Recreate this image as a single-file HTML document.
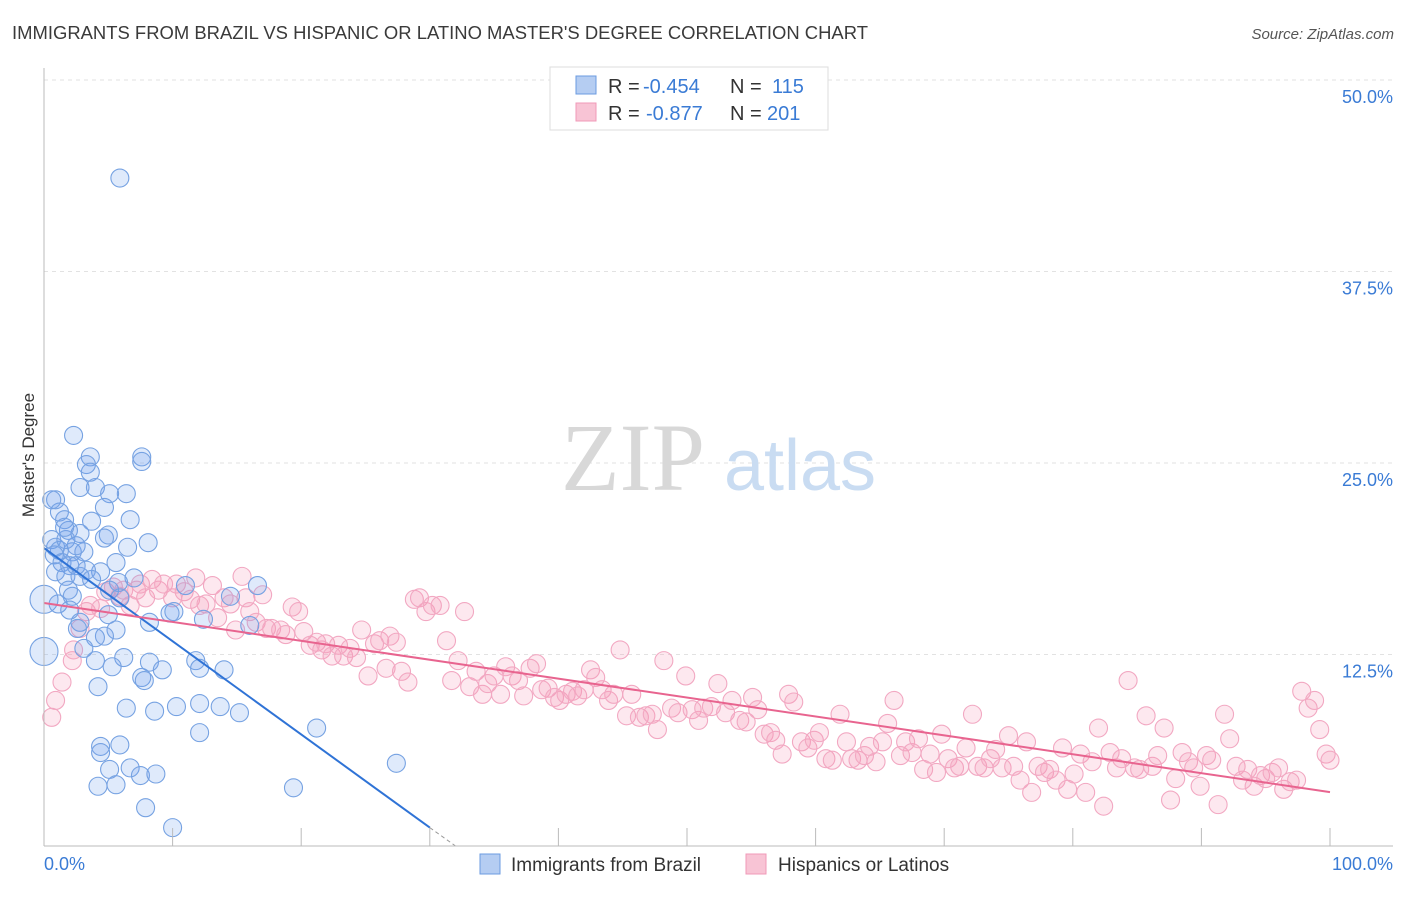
<!DOCTYPE html>
<html><head><meta charset="utf-8">
<style>
body{margin:0;background:#fff;font-family:"Liberation Sans",sans-serif;}
svg text{font-family:"Liberation Sans",sans-serif;}
</style></head>
<body>
<svg id="chart" width="1406" height="892" viewBox="0 0 1406 892" xmlns="http://www.w3.org/2000/svg">
<text x="12" y="39" font-size="18" fill="#3a3a3a" textLength="856" lengthAdjust="spacingAndGlyphs">IMMIGRANTS FROM BRAZIL VS HISPANIC OR LATINO MASTER'S DEGREE CORRELATION CHART</text>
<text x="1394" y="39" font-size="15" fill="#555" text-anchor="end" font-style="italic">Source: ZipAtlas.com</text>
<g id="grid"></g>
<g>
<text x="633" y="490" font-size="96" fill="#d8d8d8" text-anchor="middle" font-family="Liberation Serif" style="font-family:'Liberation Serif',serif">ZIP</text>
<text x="800" y="490" font-size="72" fill="#c9dcf2" text-anchor="middle">atlas</text>
</g>
<g id="pinkPts"></g>
<g id="bluePts"></g>
<g id="lines"></g>
<g id="axes"></g>
<text transform="translate(34,455) rotate(-90)" font-size="17" fill="#333" text-anchor="middle">Master's Degree</text>
<g>
<rect x="550" y="67" width="278" height="63" fill="#fff" stroke="#ddd"/>
<rect x="576" y="76" width="20" height="18" fill="#b5cdf2" stroke="#6b9be0"/>
<text x="608" y="93" font-size="20" fill="#333">R =</text>
<text x="643" y="93" font-size="20" fill="#3a7bd5">-0.454</text>
<text x="730" y="93" font-size="20" fill="#333">N =</text>
<text x="772" y="93" font-size="20" fill="#3a7bd5">115</text>
<rect x="576" y="103" width="20" height="18" fill="#f8c4d5" stroke="#f09ab8"/>
<text x="608" y="120" font-size="20" fill="#333">R =</text>
<text x="646" y="120" font-size="20" fill="#3a7bd5">-0.877</text>
<text x="730" y="120" font-size="20" fill="#333">N =</text>
<text x="767" y="120" font-size="20" fill="#3a7bd5">201</text>
</g>
<g>
<rect x="480" y="854" width="20" height="20" fill="#b5cdf2" stroke="#6b9be0"/>
<text x="511" y="871" font-size="19" fill="#333">Immigrants from Brazil</text>
<rect x="746" y="854" width="20" height="20" fill="#f8c4d5" stroke="#f09ab8"/>
<text x="778" y="871" font-size="19" fill="#333">Hispanics or Latinos</text>
</g>
</svg>
<script>
const yTicks=[12.5,25,37.5,50];
const yTickLabels=["12.5%","25.0%","37.5%","50.0%"];
const xTicks=[10,20,30,40,50,60,70,80,90,100];
const blueX=[5.9,2.3,3.6,7.6,7.6,3.3,3.6,0.9,2.8,4.0,5.1,6.4,4.7,1.2,1.6,3.7,6.7,1.9,2.8,5.0,4.7,8.1,0.6,0.9,1.2,0.8,2.2,3.1,6.5,1.4,2.0,2.5,5.6,0.9,4.4,1.7,2.8,7.0,5.8,5.1,1.9,2.2,16.6,11.0,14.5,0,10.1,9.8,8.2,12.4,2.8,2.6,5.6,4.7,4.0,3.1,0,16.0,6.2,8.2,4.0,5.3,11.8,12.1,14.0,9.2,7.6,7.8,4.2,6.4,8.6,10.3,12.1,13.7,15.2,21.2,12.1,5.9,4.4,4.4,6.7,5.1,7.5,8.7,4.2,5.6,19.4,27.4,7.9,10.0,0.6,1.7,3.3,1.1,3.7,2.5,1.6,5.9,5.0,2.0];
const blueY=[43.6,26.8,25.4,25.4,25.1,24.9,24.4,22.6,23.4,23.4,23.0,23.0,22.1,21.8,21.3,21.2,21.3,20.6,20.4,20.3,20.1,19.8,20.0,19.5,19.3,19.0,19.2,19.2,19.5,18.5,18.3,18.3,18.5,17.9,17.9,17.6,17.6,17.5,17.2,16.7,16.7,16.3,17.0,17.0,16.3,16.1,15.3,15.2,14.6,14.8,14.6,14.2,14.1,13.7,13.6,12.9,12.7,14.4,12.3,12.0,12.1,11.7,12.1,11.6,11.5,11.5,11.0,10.8,10.4,9.0,8.8,9.1,9.3,9.1,8.7,7.7,7.4,6.6,6.5,6.1,5.1,5.0,4.6,4.7,3.9,4.0,3.8,5.4,2.5,1.2,22.6,20.0,18.0,15.8,17.4,19.6,20.8,16.2,15.1,15.4];
const pinkX=[0.6,0.9,1.4,2.2,2.3,2.8,3.3,3.6,4.4,4.8,5.4,5.9,6.2,6.7,7.2,7.5,7.9,8.4,8.9,9.3,10.0,10.3,10.9,11.4,11.8,12.1,12.6,13.1,13.5,14.0,14.5,14.9,15.4,15.7,16.0,16.5,17.0,17.3,17.7,18.4,18.8,19.3,19.8,20.2,20.7,21.2,21.6,21.9,22.4,22.9,23.3,23.8,24.3,24.7,25.2,25.7,26.1,26.6,26.9,27.4,27.8,28.3,28.8,29.2,29.7,30.2,30.8,31.3,31.7,32.2,32.7,33.1,33.6,34.1,34.5,35.0,35.5,35.9,36.4,36.9,37.3,37.8,38.3,38.7,39.2,39.7,40.1,40.6,41.1,41.5,42.0,42.5,42.9,43.4,43.9,44.3,44.8,45.3,45.7,46.3,46.8,47.3,47.7,48.2,48.8,49.3,49.9,50.4,50.9,51.3,51.9,52.4,53.0,53.5,54.1,54.6,55.1,55.5,56.0,56.5,56.9,57.4,57.9,58.3,58.9,59.4,59.9,60.3,60.8,61.3,61.9,62.4,62.8,63.3,63.8,64.2,64.7,65.2,65.6,66.1,66.6,67.0,67.5,68.0,68.4,68.9,69.4,69.8,70.3,70.8,71.2,71.7,72.2,72.6,73.1,73.6,74.0,74.5,75.0,75.4,75.9,76.4,76.8,77.3,77.8,78.2,78.7,79.2,79.6,80.1,80.6,81.0,81.5,82.0,82.4,82.9,83.4,83.8,84.3,84.8,85.2,85.7,86.2,86.6,87.1,87.6,88.0,88.5,89.0,89.4,89.9,90.4,90.8,91.3,91.8,92.2,92.7,93.2,93.6,94.1,94.6,95.0,95.5,96.0,96.4,96.9,97.4,97.8,98.3,98.8,99.2,99.7,100];
const pinkY=[8.4,9.5,10.7,12.1,12.8,14.2,15.3,15.7,15.5,16.6,16.9,16.3,16.7,15.7,16.7,17.1,16.2,17.4,16.7,17.1,16.2,17.1,16.6,16.1,17.5,15.7,15.8,17.0,14.9,16.2,15.8,14.1,17.6,16.2,15.3,14.6,16.4,14.2,14.2,14.1,13.8,15.6,15.3,14.0,13.1,13.3,12.8,13.2,12.4,13.1,12.4,12.9,12.3,14.1,11.1,13.2,13.4,11.6,13.7,13.3,11.4,10.7,16.1,16.2,15.3,15.7,15.7,13.4,10.8,12.1,15.3,10.4,11.4,9.9,10.6,11.1,9.9,11.7,11.1,10.8,9.8,11.6,11.9,10.2,10.3,9.7,9.5,9.9,10.1,9.8,10.2,11.5,11.0,10.2,9.5,9.9,12.8,8.5,9.9,8.4,8.5,8.6,7.6,12.1,9.0,8.7,11.1,8.9,8.2,9.0,9.1,10.6,8.7,9.5,8.2,8.1,9.7,8.9,7.3,7.4,6.9,6.0,9.9,9.4,6.8,6.4,6.9,7.4,5.7,5.6,8.6,6.8,5.7,5.6,5.9,6.5,5.5,6.8,8.0,9.5,5.9,6.8,6.1,7.0,5.0,6.0,4.8,7.3,5.7,5.1,5.2,6.4,8.6,5.2,5.1,5.7,6.3,5.1,7.2,5.2,4.3,6.8,3.5,5.2,4.8,5.0,4.3,6.4,3.7,4.7,6.0,3.5,5.5,7.7,2.6,6.1,5.1,5.7,10.8,5.1,5.0,8.5,5.2,5.9,7.7,3.0,4.4,6.1,5.5,5.1,3.9,5.9,5.6,2.7,8.6,7.0,5.2,4.3,5.0,3.9,4.6,4.4,4.8,5.1,3.7,4.2,4.3,10.1,9.0,9.5,7.6,6.0,5.6];
const blueTrendX=[0,30,32];
const blueTrendY=[19.45,1.2,0];
const pinkTrendX=[0,100];
const pinkTrendY=[15.86,3.52];

const NS="http://www.w3.org/2000/svg";
const X0=44,X1=1330,Y0=846,Y50=80;
const sx=v=>X0+(X1-X0)*v/100;
const sy=v=>Y0-(Y0-Y50)*v/50;
function mk(tag,attrs,parent){const e=document.createElementNS(NS,tag);for(const k in attrs)e.setAttribute(k,attrs[k]);parent.appendChild(e);return e;}
const grid=document.getElementById('grid');
yTicks.forEach((t,i)=>{
  const l=mk('line',{x1:X0,x2:1393,y1:sy(t),y2:sy(t),stroke:'#e2e2e2','stroke-dasharray':'4,4'},grid);
  
  
  const tx=mk('text',{x:1393,y:sy(t)+23,'font-size':18,fill:'#3a7bd5','text-anchor':'end'},grid);
  tx.textContent=yTickLabels[i];
  
  
});
const axes=document.getElementById('axes');
const ya=mk('line',{x1:X0,x2:X0,y1:68,y2:Y0,stroke:'#bbb'},axes);


const xa=mk('line',{x1:X0,x2:1393,y1:Y0,y2:Y0,stroke:'#bbb'},axes);


xTicks.forEach(t=>{
  const l=mk('line',{x1:sx(t),x2:sx(t),y1:Y0-18,y2:Y0,stroke:'#bbb'},axes);
  
  
});
const xl0=mk('text',{x:44,y:870,'font-size':18,fill:'#3a7bd5'},axes);xl0.textContent='0.0%';


const xl1=mk('text',{x:1393,y:870,'font-size':18,fill:'#3a7bd5','text-anchor':'end'},axes);xl1.textContent='100.0%';



const pg=document.getElementById('pinkPts');
pinkX.forEach((x,i)=>{
  const c=mk('circle',{cx:sx(x),cy:sy(pinkY[i]),r:9,fill:'rgba(244,150,180,0.22)',stroke:'#f2a8c2','stroke-width':1.1},pg);
  
  
});
const bg=document.getElementById('bluePts');
blueX.forEach((x,i)=>{
  const big=(x===0);
  const c=mk('circle',{cx:sx(x),cy:sy(blueY[i]),r:big?14:9,fill:'rgba(110,160,235,0.22)',stroke:'#76a2e2','stroke-width':1.1},bg);
  
  
});
const lg=document.getElementById('lines');
const bl=mk('line',{x1:sx(blueTrendX[0]),y1:sy(blueTrendY[0]),x2:sx(blueTrendX[1]),y2:sy(blueTrendY[1]),stroke:'#2f73d6','stroke-width':2},lg);


const bd=mk('line',{x1:sx(blueTrendX[1]),y1:sy(blueTrendY[1]),x2:sx(blueTrendX[2]),y2:sy(blueTrendY[2]),stroke:'#999','stroke-width':1,'stroke-dasharray':'4,3'},lg);


const pl=mk('line',{x1:sx(pinkTrendX[0]),y1:sy(pinkTrendY[0]),x2:sx(pinkTrendX[1]),y2:sy(pinkTrendY[1]),stroke:'#e8648f','stroke-width':2},lg);


</script>
</body></html>
